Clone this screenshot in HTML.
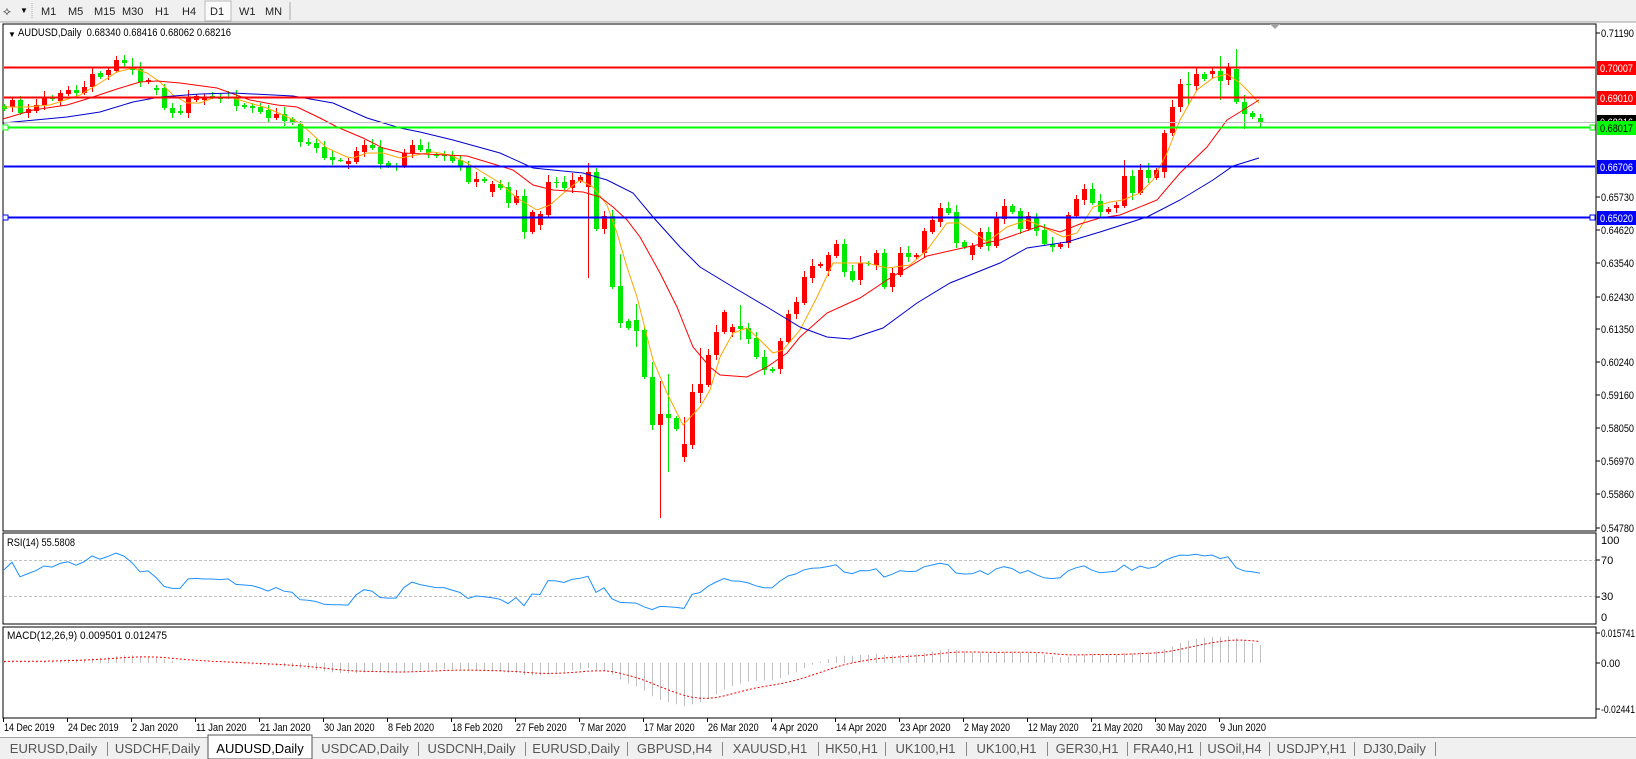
<!DOCTYPE html>
<html><head><meta charset="utf-8"><style>
html,body{margin:0;padding:0;background:#fff;}
body{width:1636px;height:759px;overflow:hidden;position:relative;font-family:"Liberation Sans",sans-serif;}
svg{position:absolute;left:0;top:0;}
</style></head><body>
<svg id="s" width="1636" height="759" xmlns="http://www.w3.org/2000/svg" font-family="Liberation Sans, sans-serif" font-size="11">
<rect x="0" y="0" width="1636" height="22" fill="#f0f0f0"/>
<line x1="0" y1="22" x2="1636" y2="22" stroke="#a0a0a0"/>
<text x="3" y="15" font-size="12" fill="#333">⟡</text><text x="20" y="13" font-size="8">▼</text>
<line x1="32" y1="3" x2="32" y2="19" stroke="#aaa" stroke-dasharray="1,1"/>
<g font-size="11" fill="#222">
<text x="41" y="15">M1</text><text x="68" y="15">M5</text><text x="94" y="15">M15</text><text x="122" y="15">M30</text><text x="155" y="15">H1</text><text x="182" y="15">H4</text>
<rect x="205" y="1" width="26" height="20" fill="#fafafa" stroke="#bbb"/><text x="210" y="15">D1</text><text x="239" y="15">W1</text><text x="265" y="15">MN</text>
</g>
<line x1="290" y1="2" x2="290" y2="20" stroke="#aaa"/>
<g id="g"></g>
</svg>
<script>
var S=document.getElementById('g'),h='';
function L(x1,y1,x2,y2,c,w,d){h+='<line x1="'+x1+'" y1="'+y1+'" x2="'+x2+'" y2="'+y2+'" stroke="'+c+'" stroke-width="'+(w||1)+'"'+(d?' stroke-dasharray="'+d+'"':'')+'/>';}
function R(x,y,w,hh,f,s){h+='<rect x="'+x+'" y="'+y+'" width="'+w+'" height="'+hh+'" fill="'+f+'"'+(s?' stroke="'+s+'"':'')+'/>';}
function T(x,y,t,c,extra){h+='<text x="'+x+'" y="'+y+'" fill="'+(c||'#000')+'" '+(extra||'')+'>'+t+'</text>';}
function TL(x,y,t,c,len){T(x,y,t,c,'textLength="'+len+'" lengthAdjust="spacingAndGlyphs"');}
function P(pts,c,w,d){h+='<polyline fill="none" stroke="'+c+'" stroke-width="'+(w||1)+'"'+(d?' stroke-dasharray="'+d+'"':'')+' points="'+pts.map(function(p){return p[0]+','+p[1]}).join(' ')+'"/>';}
R(3,24,1593,507,'#fff','#000');R(3,533,1593,91,'#fff','#000');R(3,627,1593,91,'#fff','#000');
var C=[[106,109],[107,100],[100,113],[113,109],[111,105],[105,98],[97,99],[101,93],[94,90],[90,93],[93,87],[87,74],[73,77],[75,70],[71,60],[60,63],[68,70],[69,82],[82,80],[88,90],[88,108],[108,113],[111,113],[113,97],[100,96],[100,97],[96,97],[98,98],[97,97],[97,106],[105,107],[106,108],[107,112],[110,118],[118,114],[114,121],[119,123],[124,142],[142,144],[143,148],[147,158],[157,160],[160,160],[164,161],[162,151],[152,145],[145,148],[147,164],[163,166],[166,166],[166,153],[153,145],
[145,150],[149,153],[154,156],[154,156],[155,161],[160,166],[167,182],[182,179],[179,181],[192,184],[184,188],[187,203],[203,196],[196,232],[232,212],[225,214],[215,182],[182,183],[182,188],[188,180],[181,177],[187,172],[172,229],[229,216],[216,287],[286,323],[321,328],[320,331],[330,377],[377,425],[425,414],[414,418],[418,429],[457,444],[445,392],[393,384],[385,355],[355,332],[332,312],[332,327],[326,329],[328,339],[338,357],[357,370],[369,371],[369,341],[342,314],[314,302],[303,277],[278,266],[266,264],
[271,255],[256,244],[244,272],[271,280],[280,263],[263,264],[265,253],[253,287],[287,273],[275,253],[253,257],[257,255],[253,231],[232,220],[222,208],[208,213],[212,243],[242,247],[255,246],[247,232],[232,246],[246,218],[219,206],[206,212],[211,229],[229,216],[218,231],[230,244],[244,247],[247,244],[243,215],[216,199],[200,189],[189,203],[201,212],[212,209],[208,205],[206,176],[176,193],[193,170],[170,178],[178,170],[172,133],[133,107],[107,84],[84,85],[86,74],[74,79],[74,71],[71,81],[80,68],[69,102],[102,114],[113,117],[118,122]];
var W={14:[56,72],16:[58,75],23:[96,118],65:[196,239],68:[175,216],73:[163,278],77:[254,323],79:[304,347],81:[362,426],82:[381,518],83:[374,472],85:[417,461],86:[384,449],87:[348,403],92:[305,340],140:[160,208],141:[170,200],145:[131,178],146:[100,136],148:[72,105],152:[56,100],154:[49,104],155:[95,129],156:[112,118],157:[114,125]};
for(var i=0;i<C.length;i++){var x=4+8*i,o=C[i][0],c=C[i][1],t=Math.min(o,c),b=Math.max(o,c);
 var col=c<o?'#ff0000':'#00e800';var hi=t-2-(i*7)%6,lo=b+2+(i*3)%6;if(W[i]){hi=Math.min(hi,W[i][0]);lo=Math.max(lo,W[i][1]);}
 L(x+0.5,hi,x+0.5,lo,col,1);if(b-t<1)L(x-2,t+0.5,x+3,t+0.5,col,1);else R(x-2,t,5,b-t,col);}
P([[3,107],[27,107],[50,105],[80,95],[100,83],[117,72],[133,68],[147,73],[160,82],[173,95],[187,103],[200,103],[213,98],[233,98],[253,104],[267,108],[283,115],[300,123],[313,135],[327,148],[347,157],[353,158],[367,153],[383,153],[400,158],[433,152],[450,155],[467,163],[500,183],[517,198],[537,210],[550,205],[567,190],[580,180],[593,187],[607,205],[617,233],[627,267],[637,297],[653,360],[667,393],[683,425],[700,407],[710,390],[720,357],[733,333],[747,328],[760,340],[773,353],[783,350],[800,330],[817,297],[833,263],[850,263],[867,263],[887,268],[910,265],[927,250],[947,223],[960,223],[980,237],[987,242],[1007,227],[1027,220],[1043,227],[1063,237],[1077,233],[1093,207],[1110,202],[1123,200],[1140,193],[1153,180],[1167,153],[1180,120],[1197,90],[1213,78],[1227,74],[1240,83],[1250,93],[1259,103]],'#ffa500',1);
P([[3,119],[33,110],[67,105],[90,98],[117,89],[140,82],[157,81],[180,83],[217,88],[250,100],[277,105],[297,107],[320,118],[337,127],[363,138],[383,148],[403,153],[467,156],[500,166],[513,170],[533,185],[553,190],[583,192],[600,197],[613,207],[627,220],[640,237],[660,273],[677,307],[693,347],[710,367],[720,375],[747,377],[767,367],[787,353],[800,337],[827,313],[860,298],[887,280],[927,256],[967,247],[1000,240],[1040,226],[1060,232],[1080,224],[1100,218],[1120,215],[1157,200],[1180,173],[1207,147],[1227,120],[1240,112],[1259,100]],'#ff0000',1);
P([[3,123],[67,117],[100,112],[133,102],[160,97],[200,94],[233,93],[293,96],[333,103],[367,118],[400,128],[420,132],[453,140],[500,153],[533,168],[583,173],[607,180],[633,193],[653,217],[680,247],[700,267],[733,287],[767,307],[800,327],[827,337],[850,339],[883,328],[917,303],[950,283],[1000,263],[1027,248],[1067,242],[1080,238],[1100,232],[1147,217],[1180,200],[1213,180],[1233,166],[1259,158]],'#0000cd',1);
L(4,122.5,1595,122.5,'#c0c0c0',1);
L(4,67.5,1595,67.5,'#ff0000',2);L(4,97.5,1595,97.5,'#ff0000',2);
L(4,127.5,1595,127.5,'#00ff00',2);L(4,166.5,1595,166.5,'#0000ff',2);L(4,217.5,1595,217.5,'#0000ff',2);
R(3,125,5,5,'#fff','#00ff00');R(1590,125,5,5,'#fff','#00ff00');R(3,215,5,5,'#fff','#0000ff');R(1590,215,5,5,'#fff','#0000ff');
h+='<path d="M1270,24 L1280,24 L1275,29 Z" fill="#a0a0a0"/>';
var ticks=[['0.71190',33],['0.65730',197],['0.64620',230],['0.63540',263],['0.62430',297],['0.61350',329],['0.60240',362],['0.59160',395],['0.58050',428],['0.56970',461],['0.55860',494],['0.54780',528]];
ticks.forEach(function(t){L(1596,t[1],1600,t[1],'#000');TL(1601,t[1]+4,t[0],'#000',33);});
function box(y,txt,bg,fg){R(1597,y-7,39,14,bg);TL(1600,y+4,txt,fg,33);}
box(68,'0.70007','#ff0000','#fff');box(98,'0.69010','#ff0000','#fff');box(122,'0.68216','#000','#fff');box(128,'0.68017','#00ff00','#000');box(167,'0.66706','#0000ff','#fff');box(218,'0.65020','#0000ff','#fff');
T(8,37,'▼','#000','font-size="8"');TL(18,36,'AUDUSD,Daily&#160; 0.68340 0.68416 0.68062 0.68216','#000',213);
L(4,560.5,1595,560.5,'#c0c0c0',1,'3,2');L(4,596.5,1595,596.5,'#c0c0c0',1,'3,2');
var ag=1.6,al=1.1,rs=[],pr=[];for(i=0;i<C.length;i++){var c=C[i][1];if(i>0){var d=C[i-1][1]-c;var g=d>0?d:0,l=d<0?-d:0;ag=(ag*13+g)/14;al=(al*13+l)/14;}var v=100-100/(1+ag/al);rs.push([4+8*i,(623-0.9*v).toFixed(1)]);pr.push(0.70007-(c-67.7)/3010);}
P(rs,'#1e90ff',1);
TL(7,546,'RSI(14) 55.5808','#000',68);T(1601,544,'100');T(1601,564,'70');T(1601,600,'30');T(1601,621,'0');
L(1596,560,1600,560,'#000');L(1596,597,1600,597,'#000');
var e12=pr[0]-0.0005,e26=pr[0]-0.0015,sg=0.0008,sp=[];
for(i=0;i<pr.length;i++){e12+=(pr[i]-e12)*2/13;e26+=(pr[i]-e26)*2/27;var m=e12-e26;sg+=(m-sg)*2/10;var x=4+8*i;
 L(x+0.5,663,x+0.5,(663-m*1906).toFixed(1),'#c0c0c0',1);sp.push([x,(663-sg*1906).toFixed(1)]);}
P(sp,'#ff0000',1,'2,2');
TL(7,639,'MACD(12,26,9) 0.009501 0.012475','#000',160);TL(1601,637,'0.015741','#000',34);TL(1601,667,'0.00','#000',19);TL(1601,713,'-0.02441','#000',34);
L(1596,633,1600,633,'#000');L(1596,663,1600,663,'#000');L(1596,709,1600,709,'#000');
var D=['14 Dec 2019','24 Dec 2019','2 Jan 2020','11 Jan 2020','21 Jan 2020','30 Jan 2020','8 Feb 2020','18 Feb 2020','27 Feb 2020','7 Mar 2020','17 Mar 2020','26 Mar 2020','4 Apr 2020','14 Apr 2020','23 Apr 2020','2 May 2020','12 May 2020','21 May 2020','30 May 2020','9 Jun 2020'];
D.forEach(function(d,k){var x=3+64*k;L(x+0.5,718,x+0.5,722,'#000');TL(x+1,731,d,'#000',d.length*4.6);});
R(0,737,1636,22,'#f0f0f0');L(0,737.5,1636,737.5,'#a0a0a0');
var tabs=[['EURUSD,Daily',0,107],['USDCHF,Daily',107,208],['AUDUSD,Daily',208,312],['USDCAD,Daily',312,418],['USDCNH,Daily',418,525],['EURUSD,Daily',525,627],['GBPUSD,H4',627,722],['XAUUSD,H1',722,818],['HK50,H1',818,885],['UK100,H1',885,966],['UK100,H1',966,1047],['GER30,H1',1047,1127],['FRA40,H1',1127,1200],['USOil,H4',1200,1269],['USDJPY,H1',1269,1354],['DJ30,Daily',1354,1435]];
tabs.forEach(function(t){var a=t[0]=='AUDUSD,Daily'&&t[1]==208;if(a){R(t[1],735,t[2]-t[1],24,'#fff','#555');}else{L(t[2]+0.5,742,t[2]+0.5,756,'#888');}
 T((t[1]+t[2])/2,753,t[0],a?'#000':'#555','font-size="13" text-anchor="middle"');});
S.innerHTML=h;
</script>
</body></html>
